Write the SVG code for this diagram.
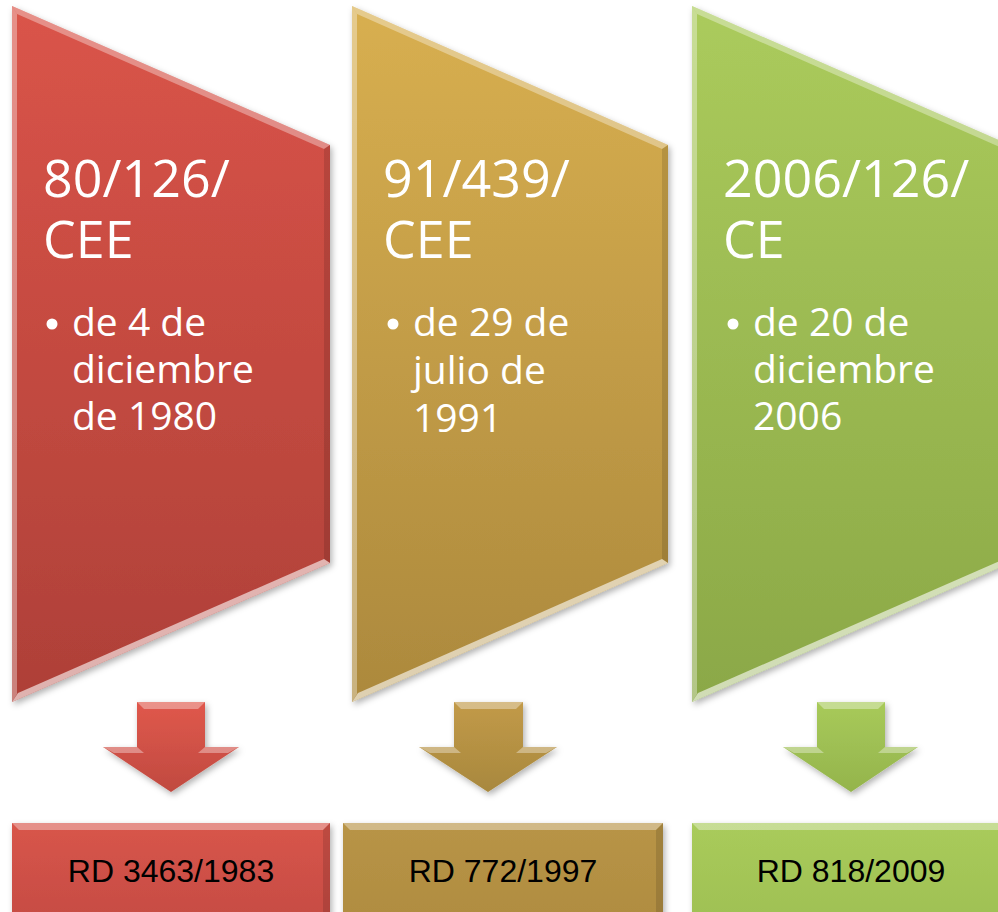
<svg xmlns="http://www.w3.org/2000/svg" width="998" height="912" viewBox="0 0 998 912">
<defs>
<linearGradient id="gR" x1="0" y1="0" x2="0" y2="1"><stop offset="0" stop-color="#DA5449"/><stop offset="1" stop-color="#AE4038"/></linearGradient>
<linearGradient id="gG" x1="0" y1="0" x2="0" y2="1"><stop offset="0" stop-color="#D8AF50"/><stop offset="1" stop-color="#AC893D"/></linearGradient>
<linearGradient id="gV" x1="0" y1="0" x2="0" y2="1"><stop offset="0" stop-color="#ABCB5C"/><stop offset="1" stop-color="#8BA847"/></linearGradient>
<linearGradient id="aR" x1="0" y1="0" x2="0" y2="1"><stop offset="0" stop-color="#E0584C"/><stop offset="1" stop-color="#C04A40"/></linearGradient>
<linearGradient id="aG" x1="0" y1="0" x2="0" y2="1"><stop offset="0" stop-color="#C29A48"/><stop offset="1" stop-color="#A8883E"/></linearGradient>
<linearGradient id="aV" x1="0" y1="0" x2="0" y2="1"><stop offset="0" stop-color="#A8CA5A"/><stop offset="1" stop-color="#94B44C"/></linearGradient>
<linearGradient id="bR" x1="0" y1="0" x2="0" y2="1"><stop offset="0" stop-color="#D8554B"/><stop offset="1" stop-color="#C24A41"/></linearGradient>
<linearGradient id="bG" x1="0" y1="0" x2="0" y2="1"><stop offset="0" stop-color="#B89446"/><stop offset="1" stop-color="#AE8B40"/></linearGradient>
<linearGradient id="bV" x1="0" y1="0" x2="0" y2="1"><stop offset="0" stop-color="#A9CB5B"/><stop offset="1" stop-color="#9DBE52"/></linearGradient>
<filter id="sh" x="-10%" y="-10%" width="120%" height="120%"><feDropShadow dx="2" dy="3" stdDeviation="3" flood-color="#000" flood-opacity="0.3"/></filter>
</defs>
<style>
.t{font-family:"Open Sans","DejaVu Sans",sans-serif;fill:#fff}
.h{font-size:52px}
.b{font-size:39px}
.dot{fill:#fff}
.r{font-family:"Liberation Sans",Arial,sans-serif;font-size:32px;fill:#000;text-anchor:middle}
.hl{fill:#fff;opacity:0.35}
.hw{fill:#fff;opacity:0.6}
.dk{fill:#000;opacity:0.12}
</style>

<g id="node-red">
<polygon points="12,6 330,145 330,563 12,702" fill="url(#gR)" filter="url(#sh)"/>
<polygon class="hl" points="12,6 17,14 17,694 12,702"/>
<polygon class="hl" points="12,6 330,145 324,149 17,14" opacity="0.15"/>
<polygon class="dk" points="330,145 330,563 324,559 324,149"/>
<polygon class="hw" points="330,563 12,702 18,693 324,559"/>
<text class="t h" x="43" y="197">80/126/</text>
<text class="t h" x="43" y="258">CEE</text>
<circle class="dot" cx="52" cy="324" r="5.5"/>
<text class="t b"><tspan x="72" y="336">de 4 de</tspan><tspan x="72" y="383">diciembre</tspan><tspan x="72" y="430">de 1980</tspan></text>
</g>

<g id="node-gold">
<polygon points="352,6 668,145 668,563 352,702" fill="url(#gG)" filter="url(#sh)"/>
<polygon class="hl" points="352,6 357,14 357,694 352,702"/>
<polygon class="hl" points="352,6 668,145 662,149 357,14" opacity="0.15"/>
<polygon class="dk" points="668,145 668,563 662,559 662,149"/>
<polygon class="hw" points="668,563 352,702 358,693 662,559"/>
<text class="t h" x="383" y="197">91/439/</text>
<text class="t h" x="383" y="258">CEE</text>
<circle class="dot" cx="393" cy="324" r="5.5"/>
<text class="t b"><tspan x="413" y="336">de 29 de</tspan><tspan x="413" y="384">julio de</tspan><tspan x="413" y="432">1991</tspan></text>
</g>

<g id="node-green">
<polygon points="692,6 1010,145 1010,563 692,702" fill="url(#gV)" filter="url(#sh)"/>
<polygon class="hl" points="692,6 697,14 697,694 692,702"/>
<polygon class="hl" points="692,6 1010,145 1004,149 697,14" opacity="0.15"/>
<polygon class="hw" points="1010,563 692,702 698,693 1004,559"/>
<text class="t h" x="723" y="197">2006/126/</text>
<text class="t h" x="723" y="258">CE</text>
<circle class="dot" cx="733" cy="324" r="5.5"/>
<text class="t b"><tspan x="753" y="336">de 20 de</tspan><tspan x="753" y="383">diciembre</tspan><tspan x="753" y="430">2006</tspan></text>
</g>

<g id="connectors">
<g id="arrow-red">
<polygon points="137,702 205,702 205,747 239,747 171,792 103,747 137,747" fill="url(#aR)" filter="url(#sh)"/>
<polygon class="hl" points="137,702 205,702 198,709 144,709"/>
<polygon class="hl" points="103,747 137,747 144,753 114,753" opacity="0.25"/>
<polygon class="hl" points="205,747 239,747 228,753 198,753" opacity="0.25"/>
</g>
<g id="arrow-gold">
<polygon points="454,702 523,702 523,747 557,747 488,792 419,747 454,747" fill="url(#aG)" filter="url(#sh)"/>
<polygon class="hl" points="454,702 523,702 516,709 461,709"/>
<polygon class="hl" points="419,747 454,747 461,753 430,753" opacity="0.25"/>
<polygon class="hl" points="523,747 557,747 546,753 516,753" opacity="0.25"/>
</g>
<g id="arrow-green">
<polygon points="817,702 885,702 885,747 918,747 851,792 783,747 817,747" fill="url(#aV)" filter="url(#sh)"/>
<polygon class="hl" points="817,702 885,702 878,709 824,709"/>
<polygon class="hl" points="783,747 817,747 824,753 794,753" opacity="0.25"/>
<polygon class="hl" points="885,747 918,747 907,753 878,753" opacity="0.25"/>
</g>
</g>

<g id="box-red">
<rect x="12" y="823" width="318" height="120" fill="url(#bR)" filter="url(#sh)"/>
<polygon class="hl" points="12,823 330,823 323,830 19,830"/>
<polygon class="dk" points="330,823 330,943 323,943 323,830"/>
<text class="r" x="171" y="882">RD 3463/1983</text>
</g>
<g id="box-gold">
<rect x="343" y="823" width="320" height="120" fill="url(#bG)" filter="url(#sh)"/>
<polygon class="hl" points="343,823 663,823 656,830 350,830"/>
<polygon class="dk" points="663,823 663,943 656,943 656,830"/>
<text class="r" x="503" y="882">RD 772/1997</text>
</g>
<g id="box-green">
<rect x="692" y="823" width="319" height="120" fill="url(#bV)" filter="url(#sh)"/>
<polygon class="hl" points="692,823 1011,823 1004,830 699,830"/>
<text class="r" x="851" y="882">RD 818/2009</text>
</g>
</svg>
